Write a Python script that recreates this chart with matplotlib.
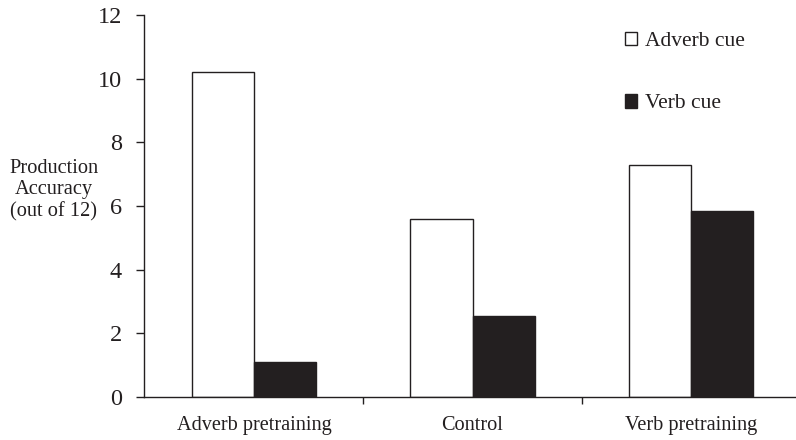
"""
Production accuracy by pretraining condition, adverb vs verb cue
"""

import numpy as np
import matplotlib.pyplot as plt
from matplotlib.patches import Patch

groups = ['Adverb pretraining', 'Control', 'Verb pretraining']
adverb_cue = [10.2, 5.6, 7.3]
verb_cue = [1.1, 2.55, 5.85]
series_labels = ['Adverb cue', 'Verb cue']
y_ticks = [0, 2, 4, 6, 8, 10, 12]


def main():
    """
    Main function
    """
    plt.rcParams['font.family'] = ['Liberation Serif', 'DejaVu Serif']
    ink = '#231f20'

    fig = plt.figure(figsize=(7.96, 4.40), dpi=100)
    ax = fig.add_axes([0.181, 0.098, 0.819, 0.868])

    x = np.arange(len(groups))
    w = 0.285
    ax.bar(x - w / 2, adverb_cue, w, color='white', edgecolor=ink,
           linewidth=1.0, label=series_labels[0])
    ax.bar(x + w / 2, verb_cue, w, color=ink, edgecolor=ink,
           linewidth=1.0, label=series_labels[1])

    ax.set_xlim(-0.503, 2.48)
    ax.set_ylim(0, 12)
    ax.set_yticks(y_ticks)
    ax.set_xticks(x)
    ax.set_xticklabels(groups)
    ax.set_xticks([0.5, 1.5], minor=True)

    for side in ['top', 'right']:
        ax.spines[side].set_visible(False)
    for side in ['left', 'bottom']:
        ax.spines[side].set_color(ink)
        ax.spines[side].set_linewidth(1.0)

    ax.tick_params(axis='y', length=6, width=1.0, color=ink, pad=10,
                   labelsize=17.5, labelcolor=ink)
    ax.tick_params(axis='x', which='major', length=0, pad=14,
                   labelsize=14.6, labelcolor=ink)
    ax.tick_params(axis='x', which='minor', length=5, width=1.0, color=ink)

    fig.text(54 / 796, 1 - 190 / 440, 'Production\nAccuracy\n(out of 12)',
             ha='center', va='center', fontsize=14.7, color=ink,
             linespacing=1.18)

    handles = [Patch(facecolor='white', edgecolor=ink, linewidth=1.0),
               Patch(facecolor=ink, edgecolor=ink, linewidth=1.0)]
    fig.legend(handles, series_labels, loc='upper left',
               bbox_to_anchor=(614 / 796, 1 - 21 / 440), frameon=False,
               handlelength=0.58, handleheight=0.58, handletextpad=0.35,
               labelspacing=2.0, fontsize=15.5, labelcolor=ink,
               borderpad=0)

    fig.savefig('out.png', dpi=100)


if __name__ == "__main__":
    main()
